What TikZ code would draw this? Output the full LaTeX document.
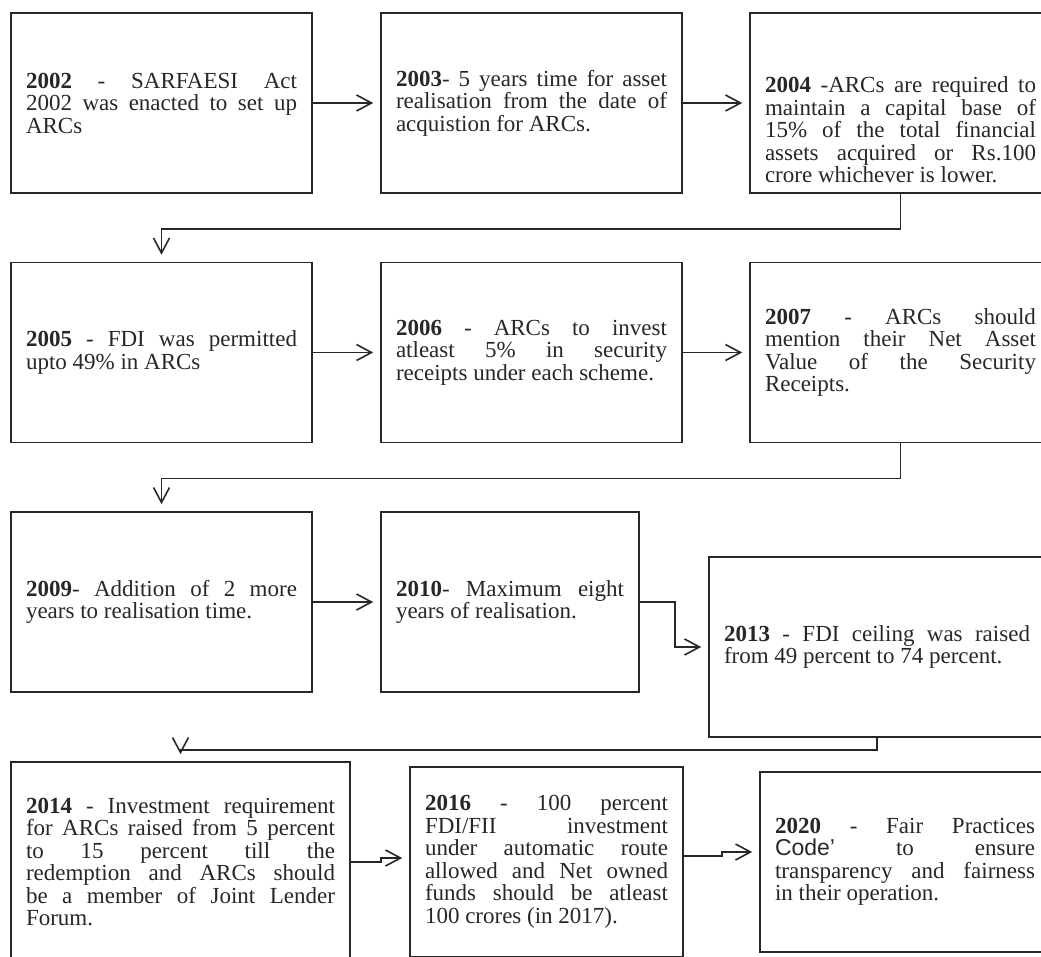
\documentclass[tikz,border=0pt]{standalone}
\usepackage{fontspec}
\setmainfont{Liberation Serif}
\setsansfont{Liberation Sans}
\usetikzlibrary{arrows.meta}
\definecolor{ink}{RGB}{40,38,38}
\tolerance=10000
\hbadness=10000
\hyphenpenalty=10000
\tikzset{
  yearbox/.style={draw=ink, line width=1.6pt, text=ink, align=justify,
    inner xsep=15pt, inner ysep=0pt, text width=271pt, minimum height=180pt,
    font=\fontsize{23}{22.5}\selectfont},
  link/.style={draw=ink, line width=1.6pt,
    -{Straight Barb[length=15pt,width=16pt]}, shorten >=7pt}
}
\begin{document}
\begin{tikzpicture}[x=1pt,y=-1pt]
      \useasboundingbox (0,0) rectangle (1041,956);
      \clip (0,0) rectangle (1041,956);
      % first row
      \node[yearbox] (b2002) at (161.5,103) {\textbf{2002} - SARFAESI Act\linebreak 2002 was enacted to set up\linebreak ARCs};
      \node[yearbox] (b2003) at (531.5,103) {\textbf{2003}- 5 years time for asset\linebreak realisation from the date of\linebreak acquistion for ARCs.};
      \node[yearbox] (b2004) at (900.5,103) {\rule{0pt}{70pt}\textbf{2004} -ARCs are required to\linebreak maintain a capital base of\linebreak 15\% of the total financial\linebreak assets acquired or Rs.100\linebreak crore whichever is lower.};
      % second row
      \node[yearbox] (b2005) at (161.5,352.5) {\textbf{2005} - FDI was permitted\linebreak upto 49\% in ARCs};
      \node[yearbox] (b2006) at (531.5,352.5) {\textbf{2006} - ARCs to invest\linebreak atleast 5\% in security\linebreak receipts under each scheme.};
      \node[yearbox] (b2007) at (900.5,352.5) {\textbf{2007} - ARCs should\linebreak mention their Net Asset\linebreak Value of the Security\linebreak Receipts.};
      % third row
      \node[yearbox] (b2009) at (161.5,602) {\textbf{2009}- Addition of 2 more\linebreak years to realisation time.};
      \node[yearbox, text width=228pt] (b2010) at (510,602) {\textbf{2010}- Maximum eight\linebreak years of realisation.};
      \node[yearbox, text width=306pt] (b2013) at (877,647) {\textbf{2013} - FDI ceiling was raised\linebreak from 49 percent to 74 percent.};
      % fourth row
      \node[yearbox, text width=309pt, minimum height=200pt] (b2014) at (180.5,862) {\textbf{2014} - Investment requirement\linebreak for ARCs raised from 5 percent\linebreak to 15 percent till the\linebreak redemption and ARCs should\linebreak be a member of Joint Lender\linebreak Forum.};
      \node[yearbox, text width=243pt, minimum height=190pt] (b2016) at (546.5,862) {\textbf{2016} - 100 percent\linebreak FDI/FII investment\linebreak under automatic route\linebreak allowed and Net owned\linebreak funds should be atleast\linebreak 100 crores (in 2017).};
      \node[yearbox, text width=260pt] (b2020) at (905,862) {\textbf{2020} - Fair Practices\linebreak {\sffamily Code’} to ensure\linebreak transparency and fairness\linebreak in their operation.};
      \begin{scope}[link]
        \draw (b2002) to (b2003);
        \draw (b2003) to (b2004);
        \draw (b2004.south) -- ++(0,35) -| (b2005.north);
        \draw (b2005) to (b2006);
        \draw (b2006) to (b2007);
        \draw (b2007.south) -- ++(0,35) -| (b2009.north);
        \draw (b2009) to (b2010);
        \draw (b2010.east) -- ++(35,0) |- (b2013.west);
        \draw (b2013.south) -- ++(0,12) -| (b2014.north);
        \draw (b2014.east) -- ++(30,0) |- ([yshift=4pt]b2016.west);
        \draw ([yshift=6pt]b2016.east) -- ++(38,0) |- ([yshift=10pt]b2020.west);
      \end{scope}
    \end{tikzpicture}
\end{document}
